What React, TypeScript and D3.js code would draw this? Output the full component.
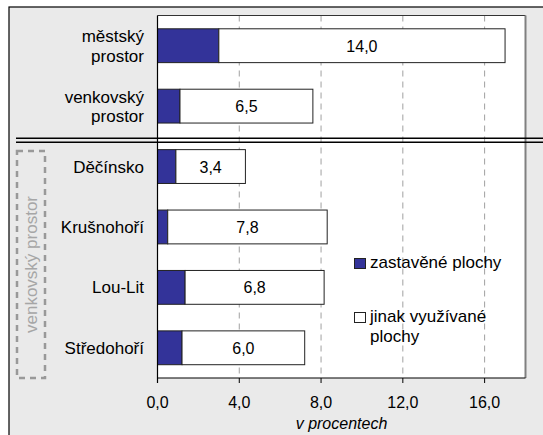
import React from "react";
import * as d3 from "d3";

const categories = ["městský prostor", "venkovský prostor", "Děčínsko", "Krušnohoří", "Lou-Lit", "Středohoří"];
const built = [3.0, 1.1, 0.9, 0.5, 1.35, 1.2];
const other = [14.0, 6.5, 3.4, 7.8, 6.8, 6.0];
const otherLabels = ["14,0", "6,5", "3,4", "7,8", "6,8", "6,0"];
const ticks = [0, 4, 8, 12, 16];
const tickLabels = ["0,0", "4,0", "8,0", "12,0", "16,0"];
const legendLabels = ["zastavěné plochy", "jinak využívané plochy"];
const sideLabel = "venkovský prostor";
const axisTitle = "v procentech";

const W = 543;
const H = 435;
const FONT = "'Liberation Sans', Arial, sans-serif";

export default function App() {
  const left = 157.5, right = 525.5, top = 15.5, bottom = 378;
  const x = d3.scaleLinear().domain([0, 18]).range([left, right]);
  const y = d3.scaleBand<string>().domain(categories).range([top, bottom]).paddingInner(0.44).paddingOuter(0.22);
  const bw = y.bandwidth();
  const sepY = y(categories[2])! - (y.step() - bw) / 2;

  return (
    <svg width={W} height={H} style={{ position: "absolute", left: 0, top: 0, display: "block" }} fontFamily={FONT}>
      <rect x={9} y={7} width={W} height={H} fill="#eaeaea" stroke="#000" strokeWidth={1.2} />
      {/* plot area */}
      <rect x={left} y={top} width={right - left} height={bottom - top} fill="#fff" />
      {/* gridlines */}
      {ticks.filter((t) => t > 0).map((t) => (
        <line key={"g" + t} x1={x(t)} x2={x(t)} y1={top} y2={bottom} stroke="#a0a0a0" strokeWidth={1} strokeDasharray="6,5" />
      ))}
      {/* borders */}
      <line x1={left} x2={right} y1={top} y2={top} stroke="#333" strokeWidth={1} />
      <line x1={right} x2={right} y1={top} y2={bottom} stroke="#808080" strokeWidth={2} />
      {/* bars */}
      {categories.map((c, i) => (
        <g key={c}>
          <rect x={x(0)} y={y(c)} width={x(built[i]) - x(0)} height={bw} fill="#333399" stroke="#222" strokeWidth={1} />
          <rect x={x(built[i])} y={y(c)} width={x(built[i] + other[i]) - x(built[i])} height={bw} fill="#fff" stroke="#222" strokeWidth={1} />
          <text x={(x(built[i]) + x(built[i] + other[i])) / 2} y={y(c)! + bw / 2 + 6} textAnchor="middle" fontSize={16} fill="#000">
            {otherLabels[i]}
          </text>
        </g>
      ))}
      {/* axes */}
      <line x1={left} x2={left} y1={top} y2={bottom + 5} stroke="#000" strokeWidth={1.2} />
      <line x1={left} x2={right} y1={bottom} y2={bottom} stroke="#000" strokeWidth={1.2} />
      {ticks.map((t, i) => (
        <g key={"t" + t}>
          <line x1={x(t)} x2={x(t)} y1={bottom} y2={bottom + 5} stroke="#000" strokeWidth={1} />
          <text x={x(t)} y={408} textAnchor="middle" fontSize={16} fill="#000">{tickLabels[i]}</text>
        </g>
      ))}
      <text x={(left + right) / 2} y={429} textAnchor="middle" fontSize={16} fontStyle="italic" fill="#000">{axisTitle}</text>
      {/* category labels */}
      {categories.map((c, i) => {
        const cy = y(c)! + bw / 2;
        const parts = i < 2 ? c.split(" ") : [c];
        return (
          <text key={"l" + c} x={144} textAnchor="end" fontSize={17} fill="#000">
            {parts.length === 1 ? (
              <tspan x={144} y={cy + 6}>{parts[0]}</tspan>
            ) : (
              <>
                <tspan x={144} y={cy - 3.5}>{parts[0]}</tspan>
                <tspan x={144} y={cy + 16}>{parts[1]}</tspan>
              </>
            )}
          </text>
        );
      })}
      {/* separator double line */}
      <line x1={16} x2={W} y1={sepY + 1.8} y2={sepY + 1.8} stroke="#000" strokeWidth={1.5} />
      <line x1={16} x2={W} y1={sepY + 5.8} y2={sepY + 5.8} stroke="#000" strokeWidth={1.5} />
      {/* side group box */}
      <rect x={17} y={151} width={28} height={227} fill="none" stroke="#999" strokeWidth={2.5} strokeDasharray="6,5" />
      <text transform={`translate(37,264.5) rotate(-90)`} textAnchor="middle" fontSize={17} fill="#a6a6a6">{sideLabel}</text>
      {/* legend */}
      <rect x={354.5} y={258.5} width={11} height={10} fill="#333399" stroke="#222" strokeWidth={1} />
      <text x={370} y={268} fontSize={17} fill="#000">{legendLabels[0]}</text>
      <rect x={354.5} y={312.5} width={11} height={10} fill="#fff" stroke="#222" strokeWidth={1} />
      <text fontSize={17} fill="#000">
        <tspan x={370} y={322}>jinak využívané</tspan>
        <tspan x={370} y={342}>plochy</tspan>
      </text>
    </svg>
  );
}
